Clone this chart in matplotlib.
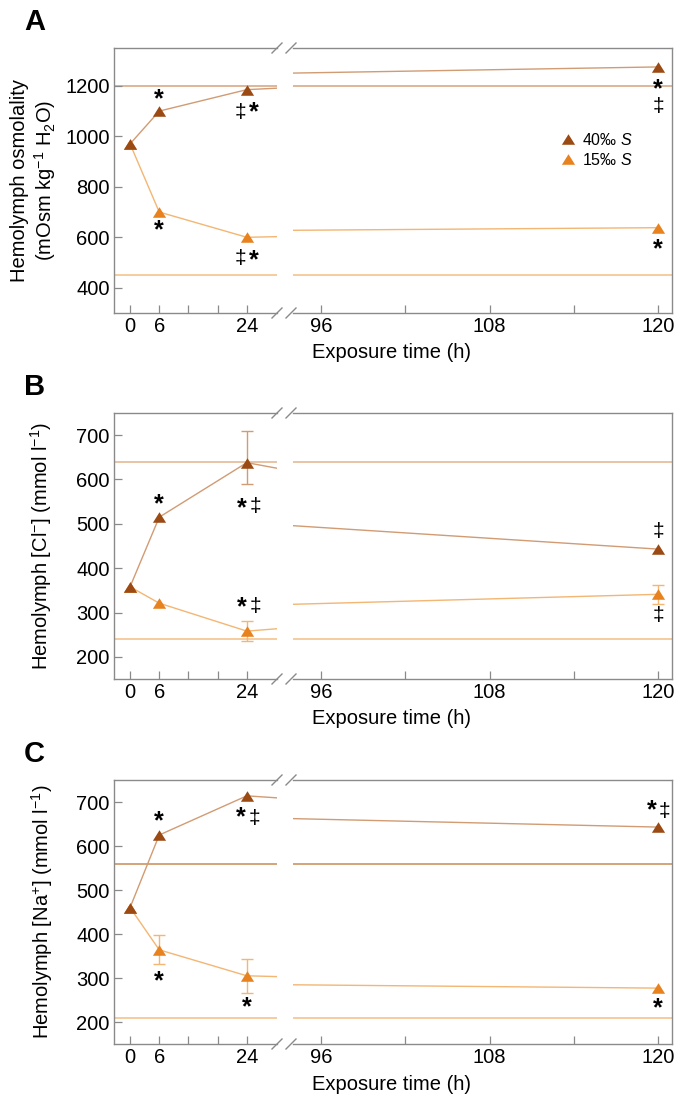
import matplotlib
matplotlib.use("Agg")
import matplotlib.pyplot as plt
from matplotlib.path import Path
from matplotlib.lines import Line2D
from matplotlib.textpath import TextPath
from matplotlib.font_manager import FontProperties
import numpy as np

plt.rcParams['font.family'] = ['Liberation Sans', 'DejaVu Sans']
plt.rcParams['mathtext.fontset'] = 'custom'
plt.rcParams['mathtext.rm'] = 'Liberation Sans'
plt.rcParams['mathtext.it'] = 'Liberation Sans:italic'
plt.rcParams['mathtext.bf'] = 'Liberation Sans:bold'

# ---------------- data ----------------
time_h = [0, 6, 24, 120]
series_labels = ['40‰ $S$', '15‰ $S$']

osm_40 = [970, 1100, 1185, 1275]
osm_15 = [970, 700, 600, 638]
osm_ref = [1200, 450]

cl_40 = [358, 515, 638, 443]
cl_40_err_lo = [0, 0, 48, 0]
cl_40_err_hi = [0, 0, 71, 0]
cl_15 = [358, 321, 258, 341]
cl_15_err = [0, 0, 22, 21]
cl_ref = [640, 240]

na_40 = [460, 625, 714, 643]
na_15 = [460, 364, 305, 277]
na_15_err = [0, 33, 38, 0]
na_ref = [558, 210]

# significance marks: (series, time, symbol, dx_px, dy_px)  dy>0 = above the point
osm_marks = [(0, 6, '*', 0, 17), (0, 24, '‡', -6, -21), (0, 24, '*', 7, -17),
             (0, 120, '*', 0, -17), (0, 120, '‡', 0, -38),
             (1, 6, '*', 0, -13), (1, 24, '‡', -6, -20), (1, 24, '*', 7, -17),
             (1, 120, '*', 0, -16)]
cl_marks = [(0, 6, '*', 0, 19), (0, 24, '*', -5, -40), (0, 24, '‡', 8.5, -42),
            (0, 120, '‡', 0, 19),
            (1, 24, '*', -5, 29), (1, 24, '‡', 8.5, 26), (1, 120, '‡', 0, -20)]
na_marks = [(0, 6, '*', 0, 19), (0, 24, '*', -6, -16), (0, 24, '‡', 8, -21),
            (0, 120, '*', -6.5, 22), (0, 120, '‡', 6.5, 17),
            (1, 6, '*', 0, -26), (1, 24, '*', 0, -26), (1, 120, '*', 0, -15)]

# ---------------- style ----------------
C_DARK = '#9C4A14'
C_ORNG = '#E8821E'
L_DARK = '#D19B73'
L_ORNG = '#F3B673'
REF_COL = [['#D6A27D', '#F2BE85'], ['#E2B48C', '#F2BE85'], ['#C98A55', '#F2BE85']]
SPINE = '#8a8a8a'
FS = 14.5
TRI = Path([(0, 0.8), (-1, -0.8), (1, -0.8), (0, 0.8)],
           [Path.MOVETO, Path.LINETO, Path.LINETO, Path.CLOSEPOLY])

# glyph sizing/centering helpers (ink box of a glyph, in points)
sym_style = {'*': dict(weight='bold', target=('w', 7.0)),
             '‡': dict(weight='normal', target=('h', 12.0))}
sym_info = {}
for s, st in sym_style.items():
    fp = FontProperties(family='Liberation Sans', weight=st['weight'])
    ext = TextPath((0, 0), s, size=100, prop=fp).get_extents()
    kind, val = st['target']
    size = val / (ext.width / 100) if kind == 'w' else val / (ext.height / 100)
    cy = (ext.y0 + ext.y1) / 2 / 100 * size
    sym_info[s] = (size, cy, st['weight'])

W, H = 675, 1100
fig = plt.figure(figsize=(W / 100, H / 100), dpi=100)
PT = 72 / 100  # points per pixel


def px(x0, y0, x1, y1):
    return [x0 / W, 1 - y1 / H, (x1 - x0) / W, (y1 - y0) / H]


panels = [
    dict(top=48, bot=313, ylim=(300, 1350), yticks=[400, 600, 800, 1000, 1200],
         s40=osm_40, s15=osm_15, ref=osm_ref, e40=None, e15=None, marks=osm_marks,
         ylabel='Hemolymph osmolality\n(mOsm kg$^{-1}$ H$_2$O)', letter='A', labx=58),
    dict(top=413, bot=679, ylim=(150, 750), yticks=[200, 300, 400, 500, 600, 700],
         s40=cl_40, s15=cl_15, ref=cl_ref, e40=(cl_40_err_lo, cl_40_err_hi),
         e15=(cl_15_err, cl_15_err), marks=cl_marks,
         ylabel='Hemolymph [Cl$^{-}$] (mmol l$^{-1}$)', letter='B', labx=54),
    dict(top=780, bot=1044, ylim=(150, 750), yticks=[200, 300, 400, 500, 600, 700],
         s40=na_40, s15=na_15, ref=na_ref, e40=None, e15=(na_15_err, na_15_err),
         marks=na_marks,
         ylabel='Hemolymph [Na$^{+}$] (mmol l$^{-1}$)', letter='C', labx=55),
]

XL, XB1, XB2, XR = 114, 277, 293, 672

for pi, p in enumerate(panels):
    axL = fig.add_axes(px(XL, p['top'], XB1, p['bot']))
    axR = fig.add_axes(px(XB2, p['top'], XR, p['bot']))
    axL.set_xlim(-3.3, 30.2)
    axR.set_xlim(94, 121)
    for ax in (axL, axR):
        ax.set_ylim(*p['ylim'])
        for sp in ax.spines.values():
            sp.set_color(SPINE)
            sp.set_linewidth(1.0)
        ax.tick_params(direction='in', length=6, width=0.9, color=SPINE,
                       labelsize=FS, pad=3)
        ax.tick_params(which='minor', direction='in', length=6, width=0.9, color=SPINE)
        ax.set_facecolor('none')
        for v, c in zip(p['ref'], REF_COL[pi]):
            ax.axhline(v, color=c, lw=1.1, zorder=1)
        ax.plot(time_h, p['s40'], color=L_DARK, lw=1.0, zorder=2)
        ax.plot(time_h, p['s15'], color=L_ORNG, lw=1.0, zorder=2)
        for ser, err, col in ((p['s40'], p['e40'], L_DARK), (p['s15'], p['e15'], L_ORNG)):
            if err is None:
                continue
            idx = [i for i in range(len(time_h)) if err[0][i] > 0 or err[1][i] > 0]
            ax.errorbar([time_h[i] for i in idx], [ser[i] for i in idx],
                        yerr=[[err[0][i] for i in idx], [err[1][i] for i in idx]],
                        fmt='none', ecolor=col, elinewidth=1.0, capsize=4.3,
                        capthick=1.0, zorder=2.5)
        ax.plot(time_h, p['s15'], ls='none', marker=TRI, ms=9.5, color=C_ORNG,
                mec='none', zorder=3, clip_on=False)
        ax.plot(time_h, p['s40'], ls='none', marker=TRI, ms=9.5, color=C_DARK,
                mec='none', zorder=3, clip_on=False)
        # significance marks
        for ser_i, t, sym, dx, dy in p['marks']:
            if (ax is axL and t > 30) or (ax is axR and t < 90):
                continue
            yv = (p['s40'] if ser_i == 0 else p['s15'])[time_h.index(t)]
            size, cy, wt = sym_info[sym]
            ax.annotate(sym, (t, yv), xytext=(dx * PT, dy * PT - cy),
                        textcoords='offset points', ha='center', va='baseline',
                        fontsize=size, fontweight=wt, color='black',
                        zorder=4, annotation_clip=False)
    axL.spines['right'].set_visible(False)
    axR.spines['left'].set_visible(False)
    axL.yaxis.tick_left()
    axR.tick_params(left=False, labelleft=False)
    axL.set_yticks(p['yticks'])
    axR.set_yticks(p['yticks'])
    axL.set_xticks([0, 6, 24])
    axL.set_xticks([12, 18], minor=True)
    axR.set_xticks([96, 108, 120])
    axR.set_xticks([102, 114], minor=True)
    axL.tick_params(top=False, which='both')
    axR.tick_params(top=False, which='both')
    axL.set_ylabel(p['ylabel'], fontsize=FS, linespacing=1.15)
    axL.yaxis.set_label_coords((p['labx'] - XL) / (XB1 - XL), 0.5)
    # break marks
    for yy in (p['top'], p['bot']):
        for xc in (XB1, XB2 - 2):
            fig.add_artist(Line2D([(xc - 5) / W, (xc + 5) / W],
                                  [1 - (yy + 5) / H, 1 - (yy - 5) / H],
                                  transform=fig.transFigure, color=SPINE, lw=1.0))
    fig.text(392 / W, 1 - (p['bot'] + 40) / H, 'Exposure time (h)', ha='center',
             va='center', fontsize=FS)
    fig.text(24 / W, 1 - (p['top'] - 26) / H, p['letter'], fontsize=21,
             fontweight='bold', ha='left', va='center')
    if pi == 0:
        h1 = Line2D([], [], ls='none', marker=TRI, ms=9.5, color=C_DARK, mec='none')
        h2 = Line2D([], [], ls='none', marker=TRI, ms=9.5, color=C_ORNG, mec='none')
        axR.legend([h1, h2], series_labels, loc='center left',
                   bbox_to_anchor=((560 - XB2) / (XR - XB2), 1 - (150 - p['top']) / (p['bot'] - p['top'])),
                   frameon=False, fontsize=11.5, handlelength=1.0, handletextpad=0.35,
                   labelspacing=0.25, borderpad=0, borderaxespad=0)

fig.savefig('out.png', dpi=100)
